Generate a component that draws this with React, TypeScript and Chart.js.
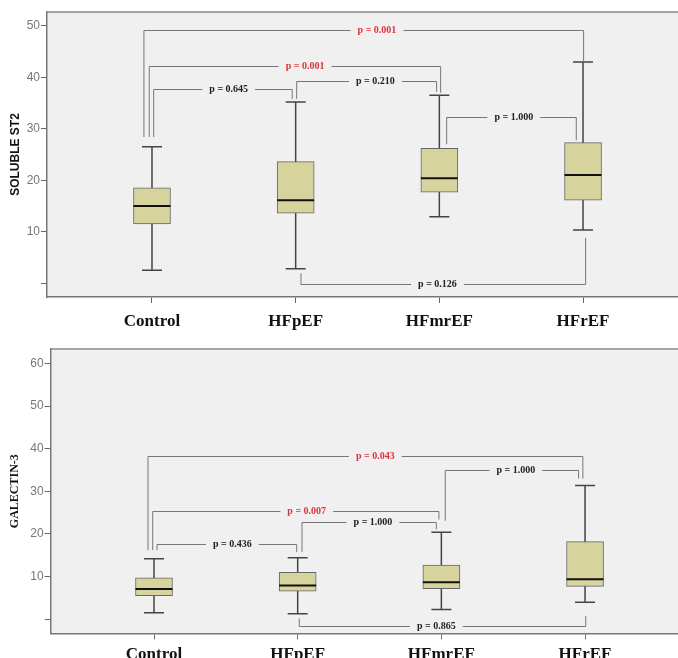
import React, { useEffect, useRef } from 'react';
import { Chart, registerables } from 'chart.js';

Chart.register(...registerables);

const categories = ['Control', 'HFpEF', 'HFmrEF', 'HFrEF'];

// SOLUBLE ST2
const st2Low = [2.5, 2.8, 12.9, 10.3];
const st2Q1 = [11.5, 13.6, 17.7, 16.1];
const st2Median = [15.0, 16.1, 20.4, 21.0];
const st2Q3 = [18.5, 23.6, 26.2, 27.3];
const st2High = [26.5, 35.2, 36.5, 43.0];
const st2Ticks = [0, 10, 20, 30, 40, 50];
const st2TickLabels = ['', '10', '20', '30', '40', '50'];
const st2Pairs = [[0, 3], [0, 2], [0, 1], [1, 2], [2, 3], [1, 3]];
const st2PValues = ['0.001', '0.001', '0.645', '0.210', '1.000', '0.126'];
const st2BracketHeights = [49.2, 42.3, 37.7, 39.2, 32.2, -0.1];
const st2LeftLegEnds = [28.4, 28.4, 28.4, 35.8, 27.0, 1.9];
const st2RightLegEnds = [43.0, 37.0, 35.8, 37.2, 27.8, 8.8];

// GALECTIN-3
const galLow = [1.5, 1.3, 2.3, 4.0];
const galQ1 = [5.5, 6.6, 7.2, 7.7];
const galMedian = [7.1, 7.9, 8.7, 9.4];
const galQ3 = [9.7, 11.0, 12.7, 18.2];
const galHigh = [14.2, 14.4, 20.4, 31.4];
const galTicks = [0, 10, 20, 30, 40, 50, 60];
const galTickLabels = ['', '10', '20', '30', '40', '50', '60'];
const galPairs = [[0, 3], [0, 2], [0, 1], [1, 2], [2, 3], [1, 3]];
const galPValues = ['0.043', '0.007', '0.436', '1.000', '1.000', '0.865'];
const galBracketHeights = [38.4, 25.5, 17.6, 22.8, 35.1, -1.6];
const galLeftLegEnds = [16.2, 16.2, 16.2, 15.8, 23.1, 0.2];
const galRightLegEnds = [33.0, 23.4, 15.8, 21.1, 33.0, 0.8];

// layout of the bracket annotations (category units)
const st2LegShift = [[-0.056, 0.004], [-0.019, 0.009], [0.012, -0.024], [0.007, -0.019], [0.051, -0.047], [0.037, 0.018]];
const st2LabelX = [2.566, 2.065, 1.534, 2.555, 3.518, 2.987];
const galLegShift = [[-0.042, -0.015], [-0.009, -0.017], [0.021, -0.007], [0.030, -0.035], [0.027, -0.045], [0.011, 0.005]];
const galLabelX = [2.540, 2.063, 1.545, 2.524, 3.519, 2.965];

type Spec = {
  low: number[]; q1: number[]; median: number[]; q3: number[]; high: number[];
  ticks: number[]; tickLabels: string[];
  pairs: number[][]; pValues: string[]; heights: number[]; leftEnds: number[]; rightEnds: number[];
  legShift: number[][]; labelX: number[];
  yMin: number; yMax: number; xMin: number; xMax: number;
  title: string; titleFont: any; axisWidth: number; xAxisHeight: number; topPad: number;
  labelPad: number; width: number; height: number;
};

const BOX_W = 37;
const CAP_W = 20;

function makePlugin(s: Spec) {
  return {
    id: 'boxExtras',
    beforeDraw(chart: any) {
      const { ctx, chartArea: a } = chart;
      ctx.save();
      ctx.fillStyle = '#f0f0f0';
      ctx.fillRect(a.left, a.top, a.right - a.left, a.bottom - a.top);
      ctx.restore();
    },
    beforeDatasetsDraw(chart: any) {
      const { ctx } = chart;
      const x = chart.scales.x;
      const y = chart.scales.y;
      ctx.save();
      ctx.strokeStyle = '#444';
      ctx.lineWidth = 1.5;
      categories.forEach((_, i) => {
        const cx = x.getPixelForValue(i + 1);
        ctx.beginPath();
        ctx.moveTo(cx, y.getPixelForValue(s.low[i]));
        ctx.lineTo(cx, y.getPixelForValue(s.high[i]));
        ctx.moveTo(cx - CAP_W / 2, y.getPixelForValue(s.low[i]));
        ctx.lineTo(cx + CAP_W / 2, y.getPixelForValue(s.low[i]));
        ctx.moveTo(cx - CAP_W / 2, y.getPixelForValue(s.high[i]));
        ctx.lineTo(cx + CAP_W / 2, y.getPixelForValue(s.high[i]));
        ctx.stroke();
      });
      ctx.restore();
    },
    afterDatasetsDraw(chart: any) {
      const { ctx, chartArea: a } = chart;
      const x = chart.scales.x;
      const y = chart.scales.y;
      ctx.save();
      // medians
      ctx.strokeStyle = '#111';
      ctx.lineWidth = 2;
      categories.forEach((_, i) => {
        const cx = x.getPixelForValue(i + 1);
        const my = y.getPixelForValue(s.median[i]);
        ctx.beginPath();
        ctx.moveTo(cx - BOX_W / 2, my);
        ctx.lineTo(cx + BOX_W / 2, my);
        ctx.stroke();
      });
      // brackets
      ctx.font = 'bold 10px "Liberation Serif"';
      ctx.textAlign = 'center';
      ctx.textBaseline = 'middle';
      s.pairs.forEach((pr, k) => {
        const lx = x.getPixelForValue(pr[0] + 1 + s.legShift[k][0]);
        const rx = x.getPixelForValue(pr[1] + 1 + s.legShift[k][1]);
        const hy = Math.round(y.getPixelForValue(s.heights[k])) + 0.5;
        const ly = y.getPixelForValue(s.leftEnds[k]);
        const ry = y.getPixelForValue(s.rightEnds[k]);
        const tx = x.getPixelForValue(s.labelX[k]);
        const text = 'p = ' + s.pValues[k];
        const tw = ctx.measureText(text).width;
        const pad = 7;
        ctx.strokeStyle = '#777';
        ctx.lineWidth = 1;
        ctx.beginPath();
        ctx.moveTo(lx, ly);
        ctx.lineTo(lx, hy);
        ctx.lineTo(tx - tw / 2 - pad, hy);
        ctx.moveTo(tx + tw / 2 + pad, hy);
        ctx.lineTo(rx, hy);
        ctx.lineTo(rx, ry);
        ctx.stroke();
        ctx.fillStyle = parseFloat(s.pValues[k]) < 0.05 ? '#d9363e' : '#222';
        ctx.fillText(text, tx, hy);
      });
      // top frame line
      ctx.strokeStyle = '#888';
      ctx.lineWidth = 1.5;
      ctx.beginPath();
      ctx.moveTo(a.left, a.top);
      ctx.lineTo(a.right, a.top);
      ctx.stroke();
      ctx.restore();
    },
  };
}

function BoxChart({ spec }: { spec: Spec }) {
  const ref = useRef<HTMLCanvasElement | null>(null);
  useEffect(() => {
    if (!ref.current) return;
    const s = spec;
    const chart = new Chart(ref.current, {
      type: 'bar',
      data: {
        datasets: [
          {
            data: categories.map((_, i) => ({ x: i + 1, y: [s.q1[i], s.q3[i]] })) as any,
            backgroundColor: '#d6d39c',
            borderColor: '#666',
            borderWidth: 1,
            borderSkipped: false,
            barThickness: BOX_W,
          },
        ],
      },
      options: {
        animation: false,
        responsive: false,
        events: [],
        layout: { padding: { top: s.topPad, left: 0, right: 0, bottom: 0 } },
        plugins: { legend: { display: false }, tooltip: { enabled: false } },
        scales: {
          x: {
            type: 'linear',
            min: s.xMin,
            max: s.xMax,
            offset: false,
            afterBuildTicks: (sc: any) => {
              sc.ticks = categories.map((_, i) => ({ value: i + 1 }));
            },
            afterFit: (sc: any) => {
              sc.height = s.xAxisHeight;
            },
            ticks: {
              callback: (_v: any, i: number) => categories[i],
              font: { family: 'Liberation Serif', size: 17, weight: 'bold' },
              color: '#111',
              padding: s.labelPad,
              autoSkip: false,
              maxRotation: 0,
            },
            grid: { offset: false, drawOnChartArea: false, drawTicks: true, tickLength: 6, color: '#666' },
            border: { display: true, color: '#777', width: 1.5 },
          },
          y: {
            min: s.yMin,
            max: s.yMax,
            afterBuildTicks: (sc: any) => {
              sc.ticks = s.ticks.map((v) => ({ value: v }));
            },
            afterFit: (sc: any) => {
              sc.width = s.axisWidth;
            },
            ticks: {
              callback: (_v: any, i: number) => s.tickLabels[i],
              font: { family: 'Liberation Sans', size: 12 },
              color: '#777',
              padding: 1,
            },
            grid: { drawOnChartArea: false, drawTicks: true, tickLength: 6, color: '#666' },
            border: { display: true, color: '#777', width: 1.5 },
            title: {
              display: true,
              text: s.title,
              font: s.titleFont,
              color: '#111',
              padding: { top: 8, bottom: 0 },
            },
          },
        },
      },
      plugins: [makePlugin(s)],
    } as any);
    return () => chart.destroy();
  }, [spec]);
  return <canvas ref={ref} width={spec.width} height={spec.height} style={{ display: 'block' }} />;
}

const topSpec: Spec = {
  low: st2Low, q1: st2Q1, median: st2Median, q3: st2Q3, high: st2High,
  ticks: st2Ticks, tickLabels: st2TickLabels,
  pairs: st2Pairs, pValues: st2PValues, heights: st2BracketHeights,
  leftEnds: st2LeftLegEnds, rightEnds: st2RightLegEnds,
  legShift: st2LegShift, labelX: st2LabelX,
  yMin: -2.7, yMax: 52.7, xMin: 0.2693, xMax: 4.661,
  title: 'SOLUBLE ST2', titleFont: { family: 'Liberation Sans', size: 12, weight: 'bold' },
  axisWidth: 47, xAxisHeight: 33, topPad: 12, labelPad: 8, width: 678, height: 330,
};

const bottomSpec: Spec = {
  low: galLow, q1: galQ1, median: galMedian, q3: galQ3, high: galHigh,
  ticks: galTicks, tickLabels: galTickLabels,
  pairs: galPairs, pValues: galPValues, heights: galBracketHeights,
  leftEnds: galLeftLegEnds, rightEnds: galRightLegEnds,
  legShift: galLegShift, labelX: galLabelX,
  yMin: -3.3, yMax: 63.4, xMin: 0.281, xMax: 4.647,
  title: 'GALECTIN-3', titleFont: { family: 'Liberation Serif', size: 12, weight: 'bold' },
  axisWidth: 50.7, xAxisHeight: 24.7, topPad: 19, labelPad: 5, width: 678, height: 328,
};

export default function App() {
  return (
    <div style={{ position: 'absolute', left: 0, top: 0, width: 678, height: 658, background: '#fff', overflow: 'hidden' }}>
      <BoxChart spec={topSpec} />
      <BoxChart spec={bottomSpec} />
    </div>
  );
}
